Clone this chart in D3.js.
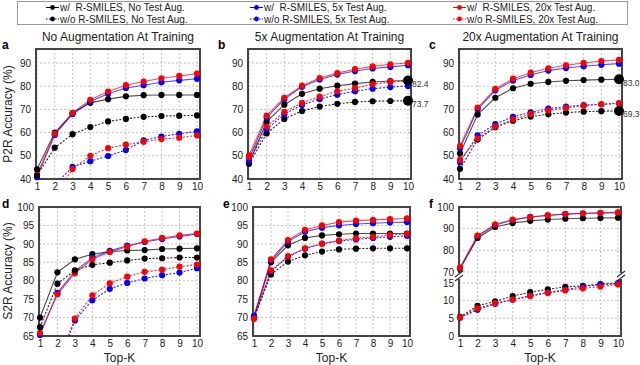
<!DOCTYPE html>
<html>
<head>
<meta charset="utf-8">
<script src="https://cdn.jsdelivr.net/npm/d3@7"></script>
<style>
body { margin: 0; background: #fff; }
svg { font-family: "Liberation Sans", Arial, sans-serif; display: block; }
</style>
</head>
<body>
<svg id="chart" width="640" height="365"></svg>
<script>
const topK = [1, 2, 3, 4, 5, 6, 7, 8, 9, 10];

const seriesNames = [
    'w/  R-SMILES, No Test Aug.', 'w/  R-SMILES, 5x Test Aug.', 'w/  R-SMILES, 20x Test Aug.',
    'w/o R-SMILES, No Test Aug.', 'w/o R-SMILES, 5x Test Aug.', 'w/o R-SMILES, 20x Test Aug.'
];
const seriesColors = ['#000000', '#0000ff', '#ff0000', '#000000', '#0000ff', '#ff0000'];
const seriesDotted = [false, false, false, true, true, true];

// values per panel, series order as in seriesNames
const panelA = [
    [44.2, 60, 68.3, 72.8, 74.4, 75.6, 76.1, 76.2, 76.2, 76.2],
    [40.8, 59, 68, 73.4, 76.7, 79.2, 80.4, 81.7, 82.5, 83.2],
    [41.8, 59.5, 68.5, 74.1, 77.7, 80.4, 82, 83.4, 84.4, 85.4],
    [41.5, 53.5, 59.3, 62.4, 64.8, 65.9, 66.8, 67.1, 67.3, 67.4],
    [26, 37.5, 45.2, 47.7, 49.9, 52.5, 56.6, 58.3, 59.5, 60.5],
    [24, 33, 44.3, 50, 53.3, 54.8, 56, 57.2, 57.8, 58.8]
];
const panelB = [
    [46.8, 64.6, 72, 76.7, 78.9, 80.2, 81.1, 81.8, 82.2, 82.4],
    [48.6, 66.4, 74.4, 79.7, 82.9, 85, 86.5, 87.6, 88.3, 89],
    [50.2, 67.3, 75, 80.2, 83.5, 85.6, 87.3, 88.5, 89.4, 90],
    [46.6, 59.6, 65.9, 69.3, 71.2, 72.4, 73.2, 73.5, 73.6, 73.7],
    [47.9, 61.4, 67.9, 71.9, 74.5, 76.3, 77.8, 78.9, 79.6, 80.1],
    [49.4, 62.6, 68.9, 72.8, 75.5, 77.8, 79.2, 80.8, 81.8, 82.2]
];
const panelC = [
    [51, 67.8, 75, 79.1, 81, 81.8, 82.3, 82.6, 82.8, 83.0],
    [53.2, 70, 78.2, 82.4, 84.8, 86.7, 87.8, 88.6, 89.2, 89.7],
    [54.2, 70.8, 78.8, 83.2, 85.8, 87.7, 89, 90, 90.8, 91.3],
    [44.4, 57, 62.3, 65.1, 66.9, 67.9, 68.6, 69, 69.2, 69.3],
    [47.3, 58.8, 63.7, 66.8, 68.7, 70.3, 71.2, 71.8, 72.2, 72.5],
    [48.2, 57.5, 62.6, 65.7, 68, 69.6, 70.6, 71.6, 72.2, 72.7]
];
const panelD = [
    [70, 82.3, 85.8, 87.2, 87.9, 88.2, 88.3, 88.6, 88.7, 88.8],
    [65.3, 76.7, 82.6, 86.2, 88.1, 89.5, 90.5, 91.3, 92, 92.7],
    [65.8, 76.3, 82, 85.8, 87.8, 89.2, 90.7, 91.6, 92.3, 92.8],
    [67.4, 79.2, 82.8, 84.3, 84.9, 85.5, 86, 86.1, 86.3, 86.3],
    [46, 57, 69.2, 74.7, 77.8, 79.4, 80.6, 81.5, 82.2, 83.4],
    [45, 57.5, 69.7, 76, 79.3, 81.1, 82.4, 83, 83.8, 84.4]
];
const panelE = [
    [70.1, 85, 89.6, 91.6, 92.3, 92.6, 92.8, 92.8, 92.8, 92.8],
    [70.5, 85.4, 90.6, 93.3, 94.4, 95, 95.4, 95.6, 95.8, 95.9],
    [69.8, 85.8, 91, 93.8, 95, 95.9, 96.3, 96.5, 96.7, 96.9],
    [69.9, 81.7, 85.2, 86.9, 87.9, 88.5, 88.7, 88.8, 88.8, 88.8],
    [70.1, 82.5, 86.5, 88.7, 90.1, 90.8, 91.2, 91.6, 91.9, 92.2],
    [69.7, 82.8, 86.7, 88.8, 90, 90.9, 91.5, 91.9, 92.4, 92.7]
];
const panelF = [
    [71.5, 85.7, 90.8, 92.6, 93.6, 94.2, 94.6, 94.8, 94.9, 95],
    [71.8, 86.5, 91.6, 94, 95.4, 96.2, 96.7, 97, 97.2, 97.4],
    [72, 86.8, 92, 94.2, 95.3, 96.1, 96.8, 97.1, 97.3, 97.5],
    [5.4, 8.5, 9.8, 11.3, 12.4, 13.2, 13.9, 14.2, 14.6, 14.8],
    [5.2, 7.4, 9.1, 10.3, 11.4, 12.3, 13.1, 14, 14.7, 15],
    [5.3, 7.8, 9.3, 10.3, 11.3, 12.2, 12.9, 13.5, 14, 14.6]
];

const p2rTicks = [40, 50, 60, 70, 80, 90];
const s2rTicks = [65, 70, 75, 80, 85, 90, 95, 100];
const fUpperTicks = [70, 80, 90, 100];
const fLowerTicks = [0, 5, 10, 15];

const titles = ['No Augmentation At Training', '5x Augmentation At Training', '20x Augmentation At Training'];
const letters = ['a', 'b', 'c', 'd', 'e', 'f'];
// highlighted end values (panel, series)
const callouts = [
    { panel: 1, series: 0, label: '82.4' },
    { panel: 1, series: 3, label: '73.7' },
    { panel: 2, series: 0, label: '83.0' },
    { panel: 2, series: 3, label: '69.3' }
];

const svg = d3.select('#chart');
const textColor = '#222';

// legend
const legend = svg.append('g');
legend.append('rect')
    .attr('x', 17.5).attr('y', 1.5).attr('width', 610).attr('height', 23)
    .attr('fill', '#fff').attr('stroke', '#999').attr('stroke-width', 1);
const legendCols = [46, 250, 453];
seriesNames.forEach((name, i) => {
    const x = legendCols[i % 3];
    const y = i < 3 ? 7.5 : 19;
    const g = legend.append('g').attr('transform', `translate(${x},${y})`);
    g.append('line').attr('x1', 0).attr('x2', 13).attr('y1', 0).attr('y2', 0)
        .attr('stroke', seriesColors[i]).attr('stroke-width', 1)
        .attr('stroke-dasharray', seriesDotted[i] ? '1.5,1.5' : null);
    g.append('circle').attr('cx', 6.5).attr('cy', 0).attr('r', 2.4).attr('fill', seriesColors[i]);
    g.append('text').attr('x', 14).attr('y', 3.5)
        .attr('font-size', 10).attr('fill', textColor)
        .style('white-space', 'pre')
        .text(name);
});

const panels = [
    { data: panelA, left: 36, right: 200, top: 49, bottom: 179, domain: [40, 96], ticks: p2rTicks },
    { data: panelB, left: 248, right: 411, top: 49, bottom: 179, domain: [40, 96], ticks: p2rTicks },
    { data: panelC, left: 459, right: 622, top: 49, bottom: 179, domain: [40, 96], ticks: p2rTicks },
    { data: panelD, left: 39, right: 200, top: 207, bottom: 336, domain: [65, 100], ticks: s2rTicks },
    { data: panelE, left: 253, right: 410, top: 207, bottom: 336, domain: [65, 100], ticks: s2rTicks },
    { data: panelF, left: 459, right: 621, top: 207, bottom: 336, broken: true }
];

const drawPanel = (p, pi) => {
    const g = svg.append('g');
    const x = d3.scaleLinear().domain([1, 10]).range([p.left + 1, p.right - 3]);

    let scales;
    if (p.broken) {
        const upper = d3.scaleLinear().domain([70, 100]).range([272, p.top]);
        const lower = d3.scaleLinear().domain([0, 15]).range([p.bottom, 283]);
        scales = [
            { y: upper, ticks: fUpperTicks, lo: 70, hi: 100 },
            { y: lower, ticks: fLowerTicks, lo: 0, hi: 15 }
        ];
    } else {
        const y = d3.scaleLinear().domain(p.domain).range([p.bottom, p.top]);
        scales = [{ y: y, ticks: p.ticks, lo: p.domain[0], hi: p.domain[1] }];
    }
    const scaleFor = (si) => p.broken ? (seriesDotted[si] ? scales[1] : scales[0]) : scales[0];

    // grid
    const grid = g.append('g').attr('stroke', '#c4c4c4').attr('stroke-width', 1).attr('stroke-dasharray', '2,2');
    topK.forEach(k => {
        grid.append('line').attr('x1', x(k)).attr('x2', x(k)).attr('y1', p.top).attr('y2', p.bottom);
    });
    scales.forEach(s => {
        s.ticks.forEach(t => {
            grid.append('line').attr('x1', p.left).attr('x2', p.right).attr('y1', s.y(t)).attr('y2', s.y(t));
        });
    });

    // y tick labels
    scales.forEach(s => {
        const axis = d3.axisLeft(s.y).tickValues(s.ticks).tickSize(0).tickPadding(5);
        const ag = g.append('g').attr('transform', `translate(${p.left},0)`).call(axis);
        ag.select('.domain').remove();
        ag.selectAll('text').attr('font-size', 10).attr('fill', textColor)
            .attr('font-family', '"Liberation Sans", Arial, sans-serif');
    });

    // x tick labels
    const xa = g.append('g').attr('transform', `translate(0,${p.bottom})`)
        .call(d3.axisBottom(x).tickValues(topK).tickSize(0).tickPadding(4).tickFormat(d3.format('d')));
    xa.select('.domain').remove();
    xa.selectAll('text').attr('font-size', 10).attr('fill', textColor)
        .attr('font-family', '"Liberation Sans", Arial, sans-serif');

    // frame
    g.append('rect')
        .attr('x', p.left).attr('y', p.top)
        .attr('width', p.right - p.left).attr('height', p.bottom - p.top)
        .attr('fill', 'none').attr('stroke', '#444').attr('stroke-width', 2);

    if (p.broken) {
        [p.left, p.right].forEach(bx => {
            g.append('rect').attr('x', bx - 5).attr('y', 273).attr('width', 10).attr('height', 6).attr('fill', '#fff');
            [274, 278].forEach(by => {
                g.append('line').attr('x1', bx - 4).attr('x2', bx + 4)
                    .attr('y1', by + 3).attr('y2', by - 3)
                    .attr('stroke', '#333').attr('stroke-width', 1.2);
            });
        });
    }

    // clip for lines
    const clipId = 'clip' + pi;
    svg.append('clipPath').attr('id', clipId).append('rect')
        .attr('x', p.left - 10).attr('y', p.top).attr('width', p.right - p.left + 20).attr('height', p.bottom - p.top);

    const marks = g.append('g').attr('clip-path', `url(#${clipId})`);
    p.data.forEach((vals, si) => {
        const s = scaleFor(si);
        const pts = topK.map((k, i) => [k, vals[i]]);
        const line = d3.line().x(d => x(d[0])).y(d => s.y(d[1]));
        marks.append('path')
            .attr('d', line(pts))
            .attr('fill', 'none')
            .attr('stroke', seriesColors[si])
            .attr('stroke-opacity', seriesDotted[si] ? 0.85 : 0.7)
            .attr('stroke-width', 1.1)
            .attr('stroke-dasharray', seriesDotted[si] ? '2,1.6' : null);
    });
    p.data.forEach((vals, si) => {
        const s = scaleFor(si);
        const pts = topK.map((k, i) => [k, vals[i]]).filter(d => d[1] >= s.lo - 0.6);
        g.append('g').selectAll('circle').data(pts).enter().append('circle')
            .attr('cx', d => x(d[0]))
            .attr('cy', d => s.y(d[1]))
            .attr('r', 3.1)
            .attr('fill', seriesColors[si]);
    });

    // callouts
    callouts.filter(c => c.panel === pi).forEach(c => {
        const s = scaleFor(c.series);
        const v = p.data[c.series][9];
        g.append('circle').attr('cx', x(10)).attr('cy', s.y(v)).attr('r', 5).attr('fill', '#000');
        g.append('text').attr('x', p.right + 1).attr('y', s.y(v) + 6.5)
            .attr('font-size', 8.5).attr('fill', '#333').text(c.label);
    });

    // letter
    svg.append('text').attr('x', pi % 3 === 0 ? 2 : p.left - 30).attr('y', p.top + (pi < 3 ? 0 : 1))
        .attr('font-size', 12).attr('font-weight', 'bold').attr('fill', '#000').text(letters[pi]);

    if (pi < 3) {
        svg.append('text').attr('x', (p.left + p.right) / 2).attr('y', 41)
            .attr('text-anchor', 'middle').attr('font-size', 12).attr('fill', textColor).text(titles[pi]);
    } else {
        svg.append('text').attr('x', (p.left + p.right) / 2).attr('y', 362)
            .attr('text-anchor', 'middle').attr('font-size', 12).attr('fill', textColor).text('Top-K');
    }
};

panels.forEach(drawPanel);

svg.append('text').attr('transform', 'translate(12,114) rotate(-90)')
    .attr('text-anchor', 'middle').attr('font-size', 12).attr('fill', textColor).text('P2R Accuracy (%)');
svg.append('text').attr('transform', 'translate(12,271) rotate(-90)')
    .attr('text-anchor', 'middle').attr('font-size', 12).attr('fill', textColor).text('S2R Accuracy (%)');
</script>
</body>
</html>
